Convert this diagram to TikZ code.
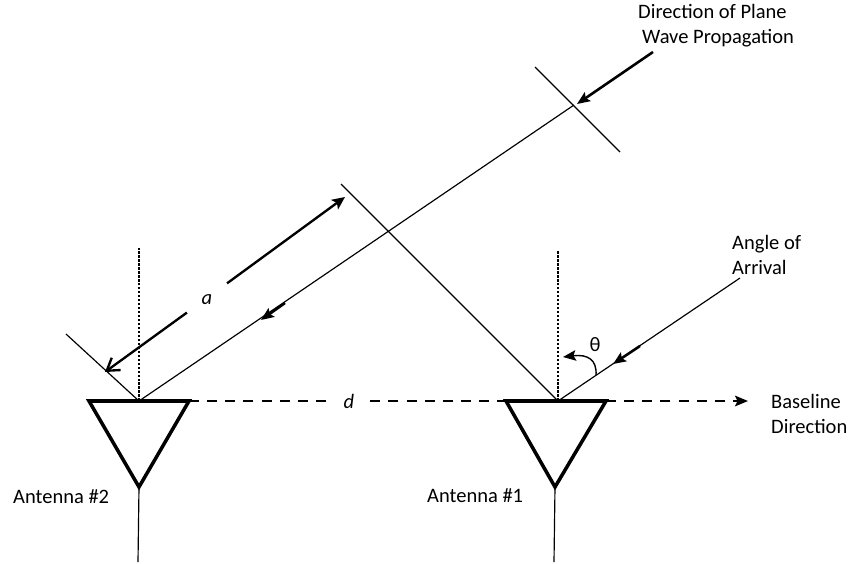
\documentclass[tikz,border=0pt]{standalone}
\usepackage{fontspec}
\setmainfont{Carlito}
\usetikzlibrary{arrows.meta}
\tikzset{
    label text/.style={inner sep=0pt, align=left, font=\fontsize{17.5}{21.5}\selectfont},
    thin line/.style={line width=1pt},
    dipole/.style={line width=3pt, line join=miter},
    dotted guide/.style={line width=1pt, dash pattern=on 2.2pt off 1.2pt},
    baseline dash/.style={line width=1.8pt, dash pattern=on 8.5pt off 7pt},
    wave arrow/.style={line width=2.2pt, -{Stealth[length=11pt,width=9pt,inset=2pt]}},
    span arrow/.style={line width=2pt, -{Stealth[length=11pt,width=10pt,inset=2.5pt]}},
}
\begin{document}
\begin{tikzpicture}[x=0.3mm,y=-0.3mm]
                    \useasboundingbox (0,0) rectangle (849,563);

                    \coordinate (ant2l) at (89,401);
                    \coordinate (ant2r) at (189,401);
                    \coordinate (ant2apex) at (139,487);
                    \coordinate (ant2foot) at (138,562);
                    \coordinate (ant2top) at (139,401);
                    \coordinate (ant2up) at (139,248);

                    \coordinate (ant1l) at (506,401);
                    \coordinate (ant1r) at (606,401);
                    \coordinate (ant1apex) at (555,487);
                    \coordinate (ant1foot) at (554,562);
                    \coordinate (ant1top) at (558,401);
                    \coordinate (ant1up) at (558,250);

                    \draw[dipole] (ant2l) -- (ant2r) -- (ant2apex) -- cycle;
                    \draw[dipole] (ant1l) -- (ant1r) -- (ant1apex) -- cycle;
                    \draw[thin line] (ant2apex) -- (ant2foot);
                    \draw[thin line] (ant1apex) -- (ant1foot);
                    \draw[dotted guide] (ant2top) -- (ant2up);
                    \draw[dotted guide] (ant1top) -- (ant1up);

                    % baseline
                    \node[label text, minimum width=36pt, minimum height=12pt] (dist) at (349,401) {\textit{d}};
                    \coordinate (basetip) at (748,401);
                    \draw[baseline dash] (ant2r) -- (dist);
                    \draw[baseline dash] (dist) -- (ant1l);
                    \draw[baseline dash] (ant1r) -- (735,401);
                    \draw[line width=1.8pt, -{Stealth[length=11pt,width=9pt,inset=2pt]}] (734,401) -- (basetip);

                    % wavefronts
                    \coordinate (front1a) at (535,67);
                    \coordinate (front1b) at (620,152);
                    \coordinate (front2a) at (341,184);
                    \coordinate (front3a) at (66,334);
                    \coordinate (cross) at (574,105);
                    \draw[thin line] (front1a) -- (front1b);
                    \draw[thin line] (front2a) -- (ant1top);
                    \draw[thin line] (front3a) -- (ant2top);
                    \draw[thin line] (cross) -- (ant2top);

                    \coordinate (planestart) at (653,52);
                    \coordinate (planetip) at (577,104);
                    \draw[wave arrow] (planestart) -- (planetip);

                    \coordinate (midstart) at (285,303);
                    \coordinate (midtip) at (261,320);
                    \draw[wave arrow] (midstart) -- (midtip);

                    % path difference
                    \node[circle, inner sep=0pt, minimum size=42pt] (pathlen) at (207,298) {};
                    \node[label text] (pathtxt) at (207,300) {\textit{a}};
                    \coordinate (lentip1) at (345,197);
                    \coordinate (lentip2) at (105,372);
                    \draw[span arrow] (pathlen) -- (lentip1);
                    \draw[line width=2pt, -{Straight Barb[length=10pt,width=13pt]}] (pathlen) -- (lentip2);

                    % arrival angle
                    \coordinate (arrstart) at (740,278);
                    \coordinate (arrtip) at (613,364);
                    \coordinate (arrmid) at (640,346);
                    \draw[thin line] (arrstart) -- (ant1top);
                    \draw[wave arrow] (arrmid) -- (arrtip);
                    \coordinate (arcstart) at (596,375);
                    \coordinate (arctip) at (563,357);
                    \draw[line width=1.2pt, -{Stealth[length=11pt,width=9pt,inset=2pt]}] (arcstart) .. controls (597,360) and (588,354) .. (arctip);
                    \node[label text] (theta) at (595,345) {θ};

                    \node[label text, anchor=west] (planelabel) at (638,26) {Direction of Plane\\\hspace*{3.4pt}Wave Propagation};
                    \node[label text, anchor=west] (anglelabel) at (732,255) {Angle of\\Arrival};
                    \node[label text, anchor=west] (baselabel) at (771,414) {Baseline\\Direction};
                    \node[label text, anchor=west] (ant2label) at (13,497) {Antenna \#2};
                    \node[label text, anchor=west] (ant1label) at (427,496) {Antenna \#1};
                \end{tikzpicture}
\end{document}
